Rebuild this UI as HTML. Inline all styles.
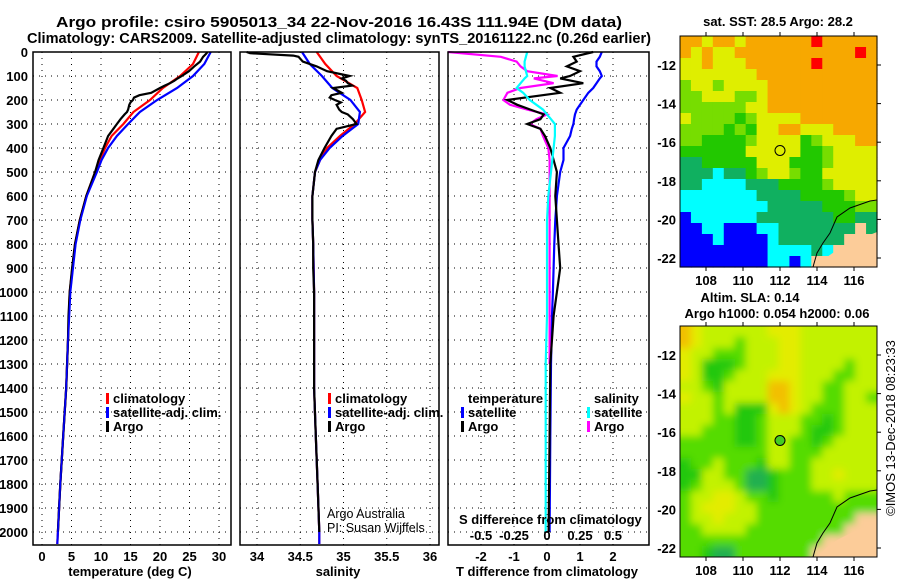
<!DOCTYPE html>
<html><head><meta charset="utf-8"><style>
body{margin:0;background:#fff;width:900px;height:580px;overflow:hidden}
svg{display:block;font-family:"Liberation Sans",sans-serif;font-weight:bold}
</style></head><body>
<svg id="c" width="900" height="580" viewBox="0 0 900 580">
<defs>
<filter id="blur" x="0" y="0" width="1" height="1"><feGaussianBlur stdDeviation="4"/></filter>
<clipPath id="clip2"><rect x="680" y="326" width="197" height="231"/></clipPath>
</defs>
</svg>
<script>
// ---------- data ----------
const depthTicks=[0,100,200,300,400,500,600,700,800,900,1000,1100,1200,1300,1400,1500,1600,1700,1800,1900,2000];
const tTicks=[0,5,10,15,20,25,30];
const sTicks=[34,34.5,35,35.5,36];
const dTTicks=[-2,-1,0,1,2];
const dSTicks=[-0.5,-0.25,0,0.25,0.5];
const dSTickLabels=["-0.5","-0.25","0","0.25","0.5"];

const climDepth=[0,50,100,150,200,250,300,350,400,450,500,600,700,800,1000,1200,1400,1600,1800,2000,2050];
const climT=[26.6,25.6,23.4,20.5,18.3,15.5,13.8,11.8,10.7,9.8,9.0,7.5,6.4,5.6,4.7,4.4,4.1,3.6,3.1,2.7,2.6];
const satT=[28.6,27.5,25.6,22.9,19.5,16.6,14.6,12.7,11.2,10.1,9.3,7.6,6.5,5.7,4.8,4.4,4.1,3.6,3.1,2.7,2.6];
const climS=[34.69,34.79,34.92,35.16,35.21,35.25,35.13,34.96,34.81,34.73,34.67,34.64,34.64,34.65,34.66,34.66,34.66,34.68,34.70,34.72,34.72];
const satS=[34.52,34.61,34.75,34.87,35.08,35.19,35.17,34.99,34.84,34.73,34.67,34.64,34.64,34.65,34.66,34.66,34.66,34.68,34.70,34.72,34.72];

const argoDepth=[0,5,15,20,40,60,80,100,110,120,130,140,150,170,180,190,200,210,220,240,250,260,280,300,320,350,400,450,500,600,700,800,900,1000,1100,1200,1400,1600,1800,2000];
const argoT=[28.0,27.9,27.5,27.3,26.8,25.8,24.9,23.7,23.0,22.4,21.7,20.8,20.0,18.5,16.5,15.6,15.4,15.0,14.8,14.6,14.4,14.0,13.3,12.7,12.1,11.2,10.4,9.6,9.0,7.5,6.4,5.6,5.1,4.7,4.5,4.4,4.1,3.6,3.1,2.7];
const argoS=[33.88,33.92,34.42,34.48,34.53,34.69,34.81,35.07,34.98,35.03,35.05,35.10,34.88,34.98,34.86,34.84,34.90,34.97,34.92,34.95,34.98,35.05,35.11,35.15,34.92,34.86,34.78,34.71,34.67,34.64,34.64,34.65,34.65,34.66,34.66,34.66,34.66,34.68,34.70,34.72];

const dDepth=[0,20,40,60,80,100,110,130,150,170,200,220,240,260,280,300,320,350,400,450,500,600,700,800,900,1000,1100,1300,1600,2000];
const satDT=[1.66,1.6,1.5,1.5,1.6,1.66,1.6,1.5,1.4,1.25,1.1,1.0,0.9,0.85,0.82,0.8,0.75,0.7,0.5,0.5,0.4,0.3,0.25,0.22,0.2,0.18,0.15,0.12,0.1,0.08];
const argoDT=[1.4,0.8,0.9,0.6,1.0,0.7,0.4,1.1,0.1,0.4,-1.2,-0.9,-0.5,-0.1,-0.2,-0.6,-0.2,-0.06,0.1,0.2,0.3,0.25,0.3,0.35,0.4,0.3,0.2,0.1,0.08,0.05];
const satDS=[-0.15,-0.16,-0.17,-0.17,-0.16,-0.15,-0.17,-0.2,-0.23,-0.18,-0.13,-0.08,-0.03,0.0,0.03,0.06,0.06,0.06,0.05,0.04,0.03,0.01,0.0,0.0,0.0,0.0,0.0,-0.01,-0.01,-0.01];
const argoDS=[-0.75,-0.35,-0.23,-0.2,-0.15,0.08,-0.1,0.05,-0.2,-0.3,-0.33,-0.28,-0.15,0.0,-0.08,-0.13,-0.05,-0.03,0.01,0.02,0.02,0.02,0.02,0.02,0.02,0.02,0.02,0.02,0.02,0.02];

const sstRows=[
"OOYOOYOOOOOOrOOOOO","OYOYYOOOOOOOOOOOrO","YYOYYYOOOOOOrOOOOO","YYYYYYYOOOOOOOOOOO",
"GYYGYYYYOOOOOOOOOO","GGYYYGGYOOOOOOOOOO","GGGGGGYYOOOOOOOOOO","YGGGGgGYYYYOOOOOOO",
"GGGGgGgYYOOYYYOOOO","GGggggGYYYYgGYYYOO","ggggggYYYYYggGYYYY","ddgggggYYYgggGYYYY",
"dddcddgGYYGggYYYYY","ddccccdddggggGYYYY","cccccccddddggggGYY","ccccccccdddddgggGG",
"bccccccdddddddggdd","bbccbbbccdddddddld","bbbcbbbbcddddddlll","bbbbbbbbccccdcllll","bbbbbbbbccbcllllll"];
const slaRows=[
"OYLLLLLLYYYLLLLLLL","OYLLLGLLLYYLLLLLLL","YLLGGGLLLYYLLLLLLL","YLgggGLLLYYLLLLGLL",
"YLggGLLLYYYLLLGGLL","LLGgLLLLOOYLLGGLLL","YLLGLLLLOOYLLGGLLG","LLLGLgggYOYLGGGLLL",
"LLLGGggGLLLGGgGLLL","LLGGGggGLLLGggGLLL","GGGGGggGLLGGgGLLLL","GGGGGGGGLLGGGLLLLL",
"gGGLGGGgLLGGLLLLLL","ggLLGGttgGGGLLYLLL","gGLLLGttgGGGLLLLLL","GLLYYLGGgGGGGGLGGG",
"GLYYYLLGGGGGGGGGGG","GLLYLLLGGGGGGGGGll","GGLLLLGGGGGGGGGlll","GGGGGGGGGGGGGlllll","GGgttGGGGGGGllllll"];
const lonTicks=[108,110,112,114,116];
const latTicks=[-12,-14,-16,-18,-20,-22];
const argoLon=112, argoLat=-16.43;

// ---------- helpers ----------
const NS="http://www.w3.org/2000/svg";
const svg=document.getElementById('c');
function mk(tag,attrs,parent){const e=document.createElementNS(NS,tag);for(const k in attrs)e.setAttribute(k,attrs[k]);(parent||svg).appendChild(e);return e;}
function txt(x,y,s,size,anchor,parent,bold){const e=mk('text',{x:x,y:y,'font-size':size,'text-anchor':anchor||'start','font-weight':bold===false?'normal':'bold'},parent);e.textContent=s;return e;}

const Y0=52, PX100=24, YB=545;
const yD=d=>Y0+d/100*PX100;
const P1={l:33,r:231}, P2={l:240,r:439}, P3={l:448,r:649};
const xT=t=>42+t*5.9;
const xS=s=>257+(s-34)*86.5;
const xDT=v=>547+v*33;
const xDS=v=>547+v*132;

function panel(P,name,vx){
  const g=mk('g',{});
  
  
  depthTicks.forEach(d=>{const y=yD(d);mk('line',{x1:P.l,x2:P.r,y1:y,y2:y,stroke:'#000','stroke-width':1,'stroke-dasharray':'1 5'},g);});
  vx.forEach(x=>{mk('line',{x1:x,x2:x,y1:Y0,y2:YB,stroke:'#000','stroke-width':1,'stroke-dasharray':'1 5'},g);});
  return g;
}
function series(g,depths,vals,xf,color,name,w){
  const pts=depths.map((d,i)=>xf(vals[i]).toFixed(1)+','+yD(d).toFixed(1)).join(' ');
  const p=mk('polyline',{points:pts,fill:'none',stroke:color,'stroke-width':w||2.2,'stroke-linejoin':'miter'},g);
  
  
}

// titles
const t1=txt(339,27,"Argo profile: csiro 5905013_34 22-Nov-2016 16.43S 111.94E (DM data)",14.5,'middle');


t1.setAttribute('textLength','566');
t1.setAttribute('lengthAdjust','spacingAndGlyphs');
const t2=txt(339,43,"Climatology: CARS2009. Satellite-adjusted climatology: synTS_20161122.nc (0.26d earlier)",14.5,'middle');


t2.setAttribute('textLength','624');
t2.setAttribute('lengthAdjust','spacingAndGlyphs');

// depth tick labels
depthTicks.forEach(d=>{const e=txt(28,yD(d)+5,String(d),13,'end');

});

// panel 1
const g1=panel(P1,'temperature-panel',tTicks.map(xT));
series(g1,climDepth,climT,xT,'#f00','temp-climatology-line');
series(g1,climDepth,satT,xT,'#00f','temp-satellite-line');
series(g1,argoDepth,argoT,xT,'#000','temp-argo-line');
series(g1,climDepth,satT,xT,'#00f','temp-satellite-line-top',1.6);
mk('rect',{x:P1.l,y:Y0,width:P1.r-P1.l,height:YB-Y0,fill:'none',stroke:'#000','stroke-width':1.5},g1);
tTicks.forEach(t=>{const e=txt(xT(t),561,String(t),13,'middle');

});
const xt1=txt(130,576,"temperature (deg C)",13,'middle');



// panel 2
const g2=panel(P2,'salinity-panel',sTicks.map(xS));
series(g2,climDepth,climS,xS,'#f00','sal-climatology-line');
series(g2,climDepth,satS,xS,'#00f','sal-satellite-line');
series(g2,argoDepth,argoS,xS,'#000','sal-argo-line');
mk('rect',{x:P2.l,y:Y0,width:P2.r-P2.l,height:YB-Y0,fill:'none',stroke:'#000','stroke-width':1.5},g2);
sTicks.forEach(s=>{const e=txt(xS(s),561,String(s),13,'middle');

});
const xt2=txt(338,576,"salinity",13,'middle');


const aa=txt(327,518,"Argo Australia",12.5,'start',g2,false);


const pi=txt(327,532,"PI: Susan Wijffels",12.5,'start',g2,false);



// panel 3
const g3=panel(P3,'difference-panel',dTTicks.map(xDT));
series(g3,dDepth,satDT,xDT,'#00f','dT-satellite-line');
series(g3,dDepth.slice(0,28),argoDS.slice(0,28),xDS,'#f0f','dS-argo-line');
series(g3,dDepth,argoDT,xDT,'#000','dT-argo-line');
series(g3,dDepth,satDS,xDS,'#0ff','dS-satellite-line');
mk('rect',{x:P3.l,y:Y0,width:P3.r-P3.l,height:YB-Y0,fill:'none',stroke:'#000','stroke-width':1.5},g3);
dTTicks.forEach(v=>{const e=txt(xDT(v),561,String(v),13,'middle');

});
dSTicks.forEach((v,i)=>{const e=txt(xDS(v),540,dSTickLabels[i],13,'middle');

});
const st=txt(459,524,"S difference from climatology",13,'start');


const tt=txt(547,576,"T difference from climatology",13,'middle');



// legends
function legend(x,y,label,color,name){
  const g=mk('g',{});
  
  
  if(color) mk('rect',{x:x-7,y:y-10,width:3,height:11,fill:color},g);
  txt(x,y,label,13,'start',g);
}
legend(113,403,"climatology",'#f00','legend-climatology');
legend(113,417,"satellite-adj. clim.",'#00f','legend-satellite-adj');
legend(113,431,"Argo",'#000','legend-argo');
legend(335,403,"climatology",'#f00','legend2-climatology');
legend(335,417,"satellite-adj. clim.",'#00f','legend2-satellite-adj');
legend(335,431,"Argo",'#000','legend2-argo');
legend(468,403,"temperature",null,'legend-temperature-heading');
legend(468,417,"satellite",'#00f','legend-dT-satellite');
legend(468,431,"Argo",'#000','legend-dT-argo');
legend(594,403,"salinity",null,'legend-salinity-heading');
legend(594,417,"satellite",'#0ff','legend-dS-satellite');
legend(594,431,"Argo",'#f0f','legend-dS-argo');

// ---------- maps ----------
const sstCol={O:'#f7a800',Y:'#dfee00',G:'#77dd00',g:'#22c800',d:'#10b060',c:'#00ffff',b:'#0000ff',l:'#fccc99',r:'#ff0000'};
const slaCol={O:'#f2c000',Y:'#e3ec00',L:'#c2f200',G:'#55dc00',g:'#22c810',t:'#20b050',l:'#fccc99'};
function drawMap(top,rows,cols,name,titleLines,filledCircle,smooth){
  const L=680,R=877,T=top,B=top+231;
  const g=mk('g',{});
  
  
  let cg=g;
  if(smooth){
    const clip=mk('g',{'clip-path':'url(#clip2)'},g);
    cg=mk('g',{filter:'url(#blur)'},clip);
  }
  const nr=rows.length,nc=rows[0].length,cw=(R-L)/nc,ch=(B-T)/nr;
  const pad=smooth?12:0;
  rows.forEach((row,i)=>{for(let j=0;j<nc;j++){
    let x=L+j*cw,y=T+i*ch,w=cw+0.6,h=ch+0.6;
    if(smooth){ if(j==0){x-=pad;w+=pad;} if(j==nc-1){w+=pad;} if(i==0){y-=pad;h+=pad;} if(i==nr-1){h+=pad;} }
    mk('rect',{x:x.toFixed(2),y:y.toFixed(2),width:w.toFixed(2),height:h.toFixed(2),fill:cols[row[j]]},cg);}});
  const lx=lon=>706+(lon-108)*18.5, ly=lat=>T+29+(-12-lat)*19.3;
  // land & coast
  mk('polygon',{points:`${R},${T+196} ${R-20},${T+204} ${R-40},${T+214} ${R-50},${T+221} ${R-60},${T+231} ${R},${B}`,fill:'#fccc99'},g);
  mk('polyline',{points:`${R},${T+164} ${R-7},${T+165} ${R-27},${T+172} ${R-40},${T+181} ${R-47},${T+197} ${R-54},${T+207} ${R-60},${T+217} ${R-64},${B}`,fill:'none',stroke:'#000','stroke-width':1},g);
  mk('rect',{x:L,y:T,width:R-L,height:B-T,fill:'none',stroke:'#000','stroke-width':1},g);
  lonTicks.forEach(v=>{const x=lx(v);mk('line',{x1:x,x2:x,y1:T-4,y2:T,stroke:'#000'},g);mk('line',{x1:x,x2:x,y1:B,y2:B+4,stroke:'#000'},g);
    const e=txt(x,B+18,String(v),13,'middle',g);
    
    });
  latTicks.forEach(v=>{const y=ly(v);mk('line',{x1:R,x2:R+4,y1:y,y2:y,stroke:'#000'},g);
    const e=txt(676,y+5,String(v),13,'end',g);
    
    });
  const c=mk('circle',{cx:lx(argoLon),cy:ly(argoLat),r:5,fill:filledCircle?'#44cc22':'none',stroke:'#000','stroke-width':1},g);
  
  
  titleLines.forEach((s,i)=>{const e=txt(s[1],s[2],s[0],13,'middle',g);
    
    });
}
drawMap(36,sstRows,sstCol,'sst-map',[["sat. SST: 28.5 Argo: 28.2",778,26]],false,false);
drawMap(326,slaRows,slaCol,'sla-map',[["Altim. SLA: 0.14",750,302],["Argo h1000: 0.054 h2000: 0.06",777,318]],true,true);

const cr=txt(0,0,"©IMOS 13-Dec-2018 08:23:33",13,'middle',null,false);
cr.setAttribute('transform','translate(895,428) rotate(-90)');


</script>
</body></html>
